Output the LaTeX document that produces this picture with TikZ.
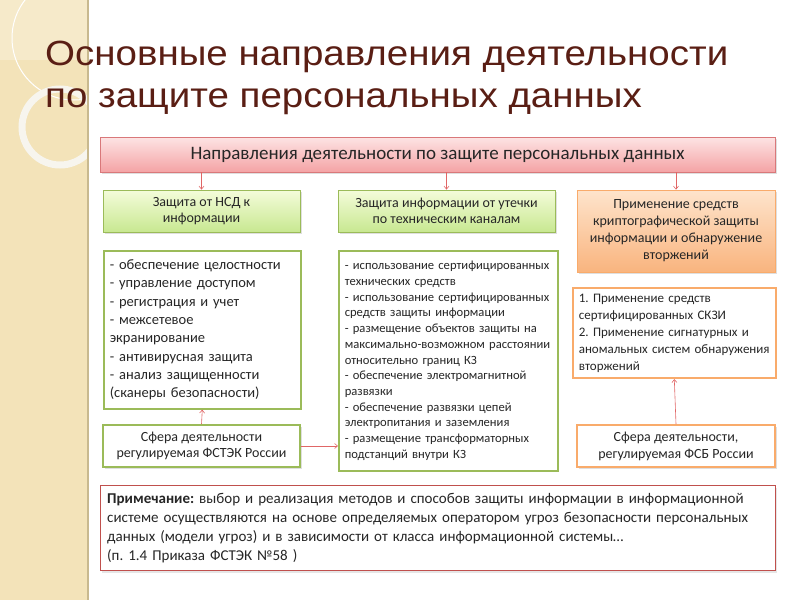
\documentclass[tikz,border=0pt]{standalone}
\usepackage{fontspec}
\setmainfont{Carlito}
\newfontfamily\titlefont[FakeStretch=1.1]{Liberation Sans}
\usetikzlibrary{positioning,shadows,arrows.meta}
\frenchspacing

\definecolor{titlebrown}{HTML}{5A1E14}
\definecolor{stripbg}{HTML}{F3E3B9}
\definecolor{stripedge}{HTML}{C8B98F}
\definecolor{pinkline}{HTML}{D9787A}
\definecolor{pinktop}{HTML}{FDE4E4}
\definecolor{pinkbot}{HTML}{F4A3A5}
\definecolor{grnline}{HTML}{9BBB59}
\definecolor{grntop}{HTML}{F4FCDA}
\definecolor{grnbot}{HTML}{C8E891}
\definecolor{orgline}{HTML}{F79646}
\definecolor{orgtop}{HTML}{FEE4CC}
\definecolor{orgbot}{HTML}{F9B47E}
\definecolor{noteline}{HTML}{C0504D}
\definecolor{arrred}{HTML}{E06666}
\definecolor{txtdark}{HTML}{262626}

\tikzset{
  boxbase/.style={rectangle, text=txtdark, inner sep=5pt,
    drop shadow={opacity=0.25, shadow xshift=1.5pt, shadow yshift=-2pt}},
  hdrbox/.style={boxbase, draw=pinkline, line width=0.8pt,
    top color=pinktop, bottom color=pinkbot,
    minimum width=675pt, minimum height=35pt,
    font=\fontsize{19}{22}\selectfont},
  grnbox/.style={boxbase, draw=grnline, line width=0.8pt,
    top color=grntop, bottom color=grnbot, align=center,
    font=\fontsize{14}{16.5}\selectfont},
  orgbox/.style={boxbase, draw=orgline!80, line width=0.8pt,
    top color=orgtop, bottom color=orgbot, align=center,
    font=\fontsize{14}{17}\selectfont},
  listbox/.style={rectangle, fill=white, line width=1.6pt, align=left,
    text=txtdark, inner sep=6pt, anchor=north west},
  titletext/.style={anchor=base west, inner sep=0pt, text=titlebrown,
    font=\titlefont\fontsize{35}{40}\selectfont},
  arr/.style={draw=arrred, line width=0.6pt, -{Straight Barb[length=3pt,width=5pt]}}
}

\begin{document}
\begin{tikzpicture}[x=1pt,y=-1pt]
  \useasboundingbox (0,0) rectangle (800,600);
  % left decorated strip
  \fill[stripbg] (0,0) rectangle (88,600);
  \fill[white,opacity=0.25] (0,0) rectangle (88,60);
  \begin{scope}
    \clip (0,0) rectangle (88,600);
    \draw[white, line width=1pt] (74,38) circle (62);
    \draw[white!85!stripedge, line width=7pt] (60,127) circle (38);
  \end{scope}
  \draw[stripedge, line width=1.2pt] (88,0) -- (88,600);

  % title
  \node[titletext] (title1) at (45,65) {Основные направления деятельности};
  \node[titletext] (title2) at (45,107) {по защите персональных данных};

  % top level
  \node[hdrbox] (hdr) at (437.5,154.5)
    {Направления деятельности по защите персональных данных};

  % second level
  \node[grnbox, minimum width=197pt, minimum height=42pt] (nsd) at (201.5,211)
    {Защита от НСД к\\информации};
  \node[grnbox, minimum width=217pt, minimum height=42pt] (leak) at (446.5,211)
    {Защита информации от утечки\\по техническим каналам};
  \node[orgbox, minimum width=198pt, minimum height=82pt] (crypt) at (676,231)
    {Применение средств\\криптографической защиты\\информации и обнаружение\\вторжений};

  % lists
  \node[listbox, draw=grnline, minimum width=197pt, minimum height=158pt,
    text width=185pt, font=\fontsize{14.5}{18.3}\selectfont] (nsdlist) at (103,250)
    {- обеспечение целостности\\
     - управление доступом\\
     - регистрация и учет\\
     - межсетевое\\
     экранирование\\
     - антивирусная защита\\
     - анализ защищенности\\
     (сканеры безопасности)};
  \node[listbox, draw=grnline, minimum width=219pt, minimum height=220pt,
    text width=207pt, font=\fontsize{12.6}{15.7}\selectfont] (leaklist) at (338,250)
    {- использование сертифицированных\\
     технических средств\\
     - использование сертифицированных\\
     средств защиты информации\\
     - размещение объектов защиты на\\
     максимально-возможном расстоянии\\
     относительно границ КЗ\\
     - обеспечение электромагнитной\\
     развязки\\
     - обеспечение развязки цепей\\
     электропитания и заземления\\
     - размещение трансформаторных\\
     подстанций внутри КЗ};
  \node[listbox, draw=orgline!80, minimum width=203pt, minimum height=88pt,
    text width=191pt, font=\fontsize{13}{17}\selectfont] (cryptlist) at (572,287)
    {1. Применение средств\\
     сертифицированных СКЗИ\\
     2. Применение сигнатурных и\\
     аномальных систем обнаружения\\
     вторжений};

  % regulators
  \node[grnbox, top color=white, bottom color=white, line width=1.6pt,
    minimum width=197pt, minimum height=42pt] (fstek) at (201.5,446)
    {Сфера деятельности\\регулируемая ФСТЭК России};
  \node[orgbox, top color=white, bottom color=white, line width=1.6pt,
    minimum width=198pt, minimum height=42pt] (fsb) at (676,446)
    {Сфера деятельности,\\регулируемая ФСБ России};

  % note
  \node[listbox, draw=noteline, line width=1.4pt, minimum width=675pt,
    minimum height=85pt, text width=662pt, font=\fontsize{15}{19}\selectfont,
    drop shadow={opacity=0.2, shadow xshift=1.5pt, shadow yshift=-2pt}] (note) at (100,485)
    {\textbf{Примечание:} выбор и реализация методов и способов защиты информации в информационной\\
     системе осуществляются на основе определяемых оператором угроз безопасности персональных\\
     данных (модели угроз) и в зависимости от класса информационной системы…\\
     (п. 1.4 Приказа ФСТЭК №58 )};

  % connectors
  \draw[arr] (hdr.south -| nsd.north) -- (nsd.north);
  \draw[arr] (hdr.south -| leak.north) -- (leak.north);
  \draw[arr] (hdr.south -| crypt.north) -- (crypt.north);
  \draw[arr] (fstek.north) -- (nsdlist.south);
  \draw[arr] (fsb.north) -- (cryptlist.south);
  \draw[arr] (fstek.east) -- (fstek.east -| leaklist.west);
\end{tikzpicture}
\end{document}
